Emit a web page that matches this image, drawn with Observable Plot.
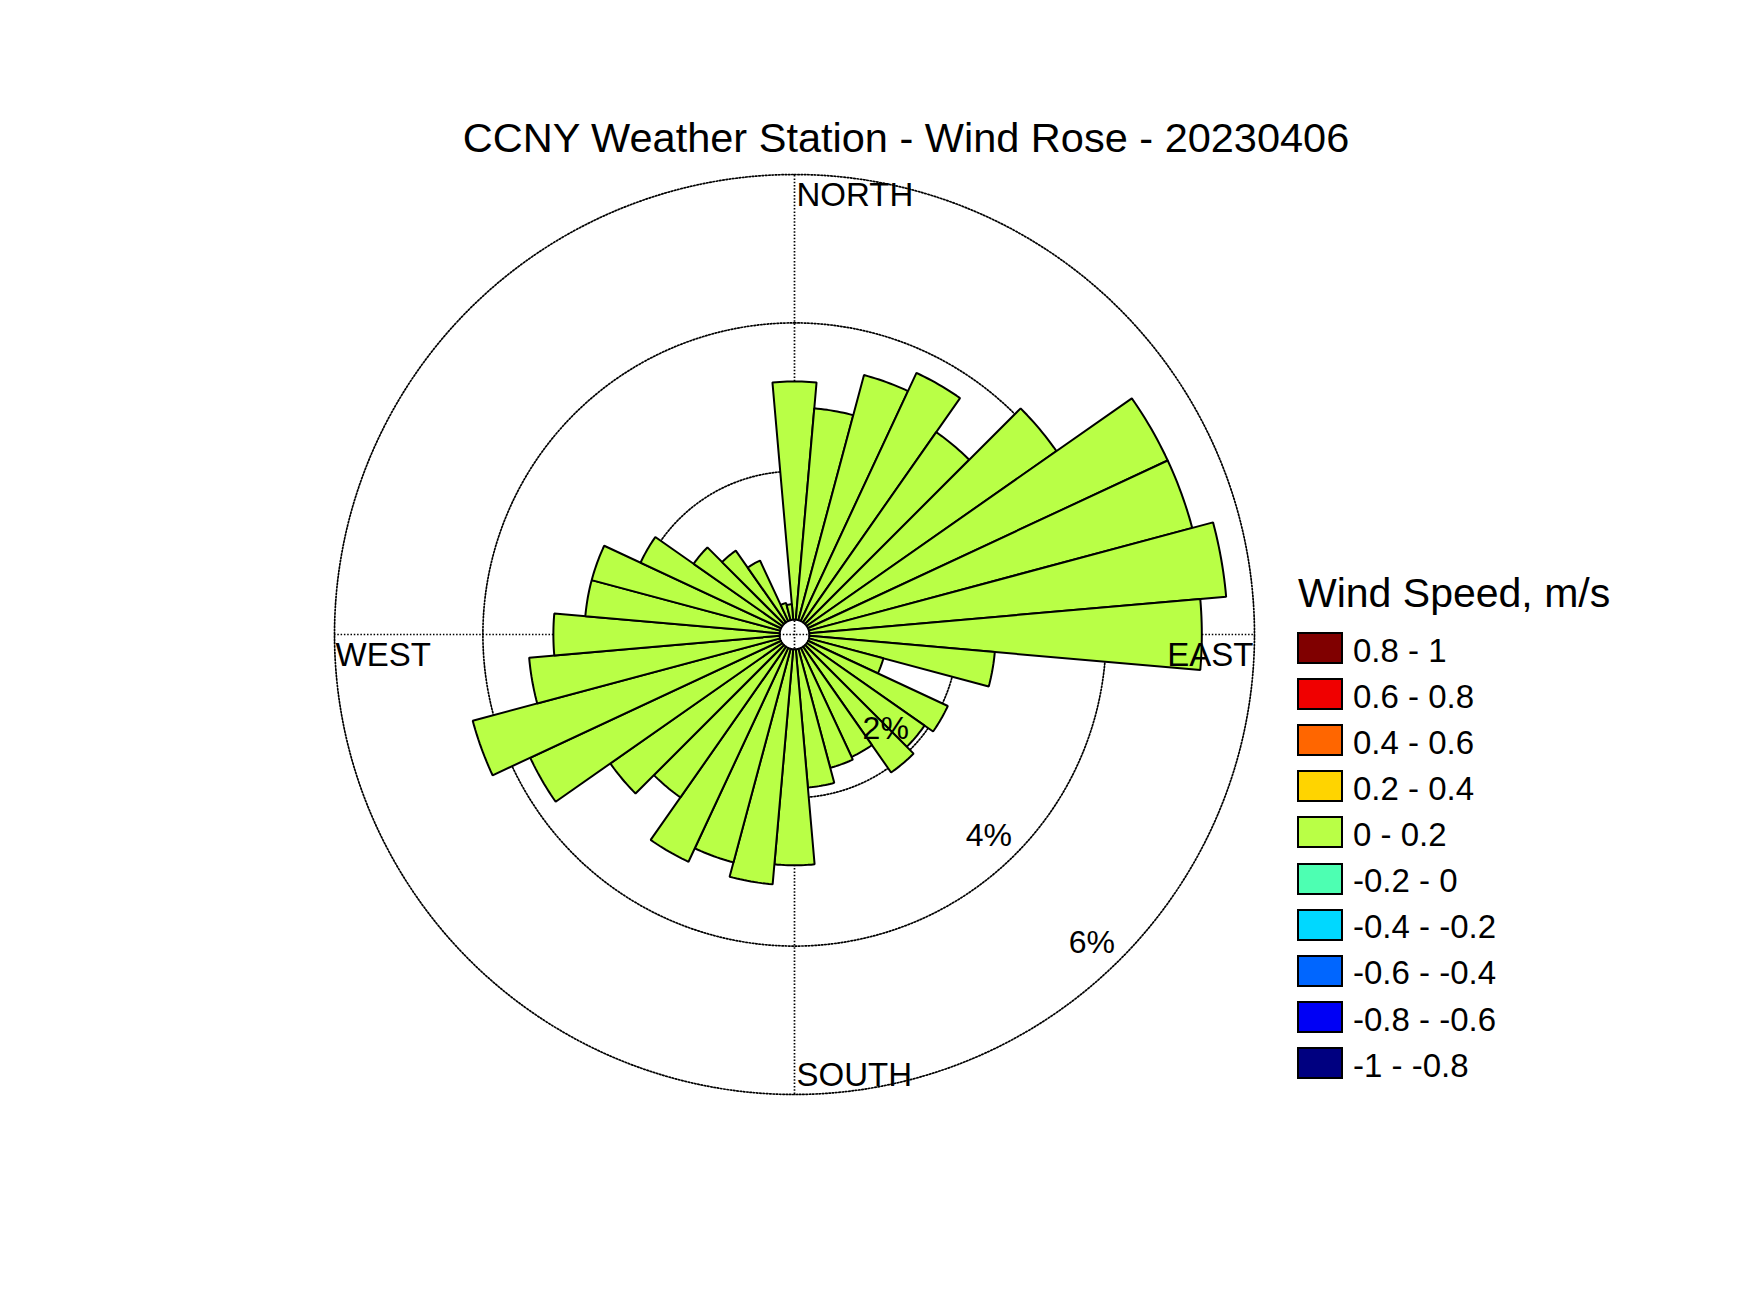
<!DOCTYPE html>
<html>
<head>
<meta charset="utf-8">
<script src="https://cdn.jsdelivr.net/npm/d3@7"></script>
<script src="https://cdn.jsdelivr.net/npm/@observablehq/plot@0.6"></script>
<style>
  body { margin: 0; background: #ffffff; }
  #wrap { position: relative; width: 1750px; height: 1313px; background: #ffffff;
          font-family: Arial, "Liberation Sans", Helvetica, sans-serif; color: #000; }
  #wrap svg { position: absolute; left: 0; top: 0; }
  .title { position: absolute; left: 0; width: 1812px; top: 117px; text-align: center;
           font-size: 41.5px; line-height: 41px; white-space: nowrap; }
  .legtitle { position: absolute; left: 1298px; top: 573px; font-size: 41px; line-height: 41px; white-space: nowrap; }
  .sw { position: absolute; left: 1297px; width: 46px; height: 32px; box-sizing: border-box; border: 2px solid #000; }
  .lab { position: absolute; left: 1353px; font-size: 33px; line-height: 33px; white-space: nowrap; }
</style>
</head>
<body>
<div id="wrap"></div>
<script>
// ---- data ----
const titleText = "CCNY Weather Station - Wind Rose - 20230406";
const legendTitle = "Wind Speed, m/s";

// direction bins (compass degrees, 10° sectors)
const directions = [0, 10, 20, 30, 40, 50, 60, 70, 80, 90, 100, 110, 120, 130, 140, 150, 160, 170,
                    180, 190, 200, 210, 220, 230, 240, 250, 260, 270, 280, 290, 300, 310, 320, 330, 340, 350];
// frequency (%) of the 0 - 0.2 m/s bin for each direction
const frequency = [3.21, 2.86, 3.42, 3.69, 3.13, 4.11, 5.35, 5.35, 5.64, 5.29, 2.51, 1.04, 2.08, 1.94,
                   2.07, 1.62, 1.66, 1.87, 2.91, 3.18, 2.98, 3.18, 2.48, 2.83, 3.73, 4.29, 3.39, 3.05,
                   2.63, 2.63, 2.09, 1.46, 1.18, 0.90, 0.24, 0.21];
const barBin = "0 - 0.2";

// legend
const speedBins = ["0.8 - 1", "0.6 - 0.8", "0.4 - 0.6", "0.2 - 0.4", "0 - 0.2",
                   "-0.2 - 0", "-0.4 - -0.2", "-0.6 - -0.4", "-0.8 - -0.6", "-1 - -0.8"];
const binColors = ["#800000", "#f00000", "#ff6600", "#ffd400", "#b9ff46",
                   "#4dffb2", "#00d8ff", "#0066ff", "#0000f5", "#000080"];

// radial axis
const ringTicks = [2, 4, 6];
const ringLabels = ["2%", "4%", "6%"];
const cardinals = ["NORTH", "EAST", "SOUTH", "WEST"];

// ---- geometry helpers ----
const hole = 0.2;                 // central hole, in % units
const rMax = ringTicks[ringTicks.length - 1] + hole;
const rad = d => d * Math.PI / 180;
const px = (r, deg) => r * Math.sin(rad(deg));
const py = (r, deg) => r * Math.cos(rad(deg));

const barColor = binColors[speedBins.indexOf(barBin)];
const half = 5, seg = 12;
const wedgePts = [];
directions.forEach((d, i) => {
  const v = frequency[i];
  for (let k = 0; k <= seg; k++) {
    const a = d - half + (2 * half) * k / seg;
    wedgePts.push({id: i, x: px(hole, a), y: py(hole, a)});
  }
  for (let k = seg; k >= 0; k--) {
    const a = d - half + (2 * half) * k / seg;
    wedgePts.push({id: i, x: px(hole + v, a), y: py(hole + v, a)});
  }
});

const ringPts = [];
ringTicks.forEach((t, i) => {
  for (let k = 0; k < 360; k++) ringPts.push({id: i, x: px(t + hole, k), y: py(t + hole, k)});
});

const labelAngle = 136;
const ringLabelData = ringTicks.map((t, i) => ({x: px(t - 0.23, labelAngle), y: py(t - 0.23, labelAngle), text: ringLabels[i]}));

const card = {
  NORTH: {x: 0, y: rMax}, EAST: {x: rMax, y: 0}, SOUTH: {x: 0, y: -rMax}, WEST: {x: -rMax, y: 0}
};
const cardData = cardinals.map(c => ({text: c, ...card[c]}));
const pick = n => cardData.filter(d => d.text === n);

const font = 'Arial, "Liberation Sans", Helvetica, sans-serif';
const dotted = {stroke: "#000", strokeWidth: 1.7, strokeDasharray: "1.5,1.8"};

const chart = Plot.plot({
  width: 1750,
  height: 1313,
  marginLeft: 334,
  marginRight: 496,
  marginTop: 174,
  marginBottom: 219,
  x: {domain: [-rMax, rMax], axis: null},
  y: {domain: [-rMax, rMax], axis: null},
  style: {fontFamily: font, background: "transparent", overflow: "visible"},
  marks: [
    Plot.ruleX([0], {y1: -rMax, y2: rMax, ...dotted}),
    Plot.ruleY([0], {x1: -rMax, x2: rMax, ...dotted}),
    Plot.line(ringPts, {x: "x", y: "y", z: "id", curve: "linear-closed", ...dotted}),
    Plot.line(wedgePts, {x: "x", y: "y", z: "id", curve: "linear-closed", fill: barColor,
                         stroke: "#000", strokeWidth: 2, strokeLinejoin: "miter"}),
    Plot.text(pick("NORTH"), {x: "x", y: "y", text: "text", textAnchor: "start", dx: 2, dy: 21, fontSize: 33, fill: "#000"}),
    Plot.text(pick("SOUTH"), {x: "x", y: "y", text: "text", textAnchor: "start", dx: 2, dy: -19, fontSize: 33, fill: "#000"}),
    Plot.text(pick("WEST"), {x: "x", y: "y", text: "text", textAnchor: "start", dx: 1, dy: 21, fontSize: 33, fill: "#000"}),
    Plot.text(pick("EAST"), {x: "x", y: "y", text: "text", textAnchor: "end", dx: -1, dy: 21, fontSize: 33, fill: "#000"}),
    Plot.text(ringLabelData, {x: "x", y: "y", text: "text", fontSize: 32, fill: "#000"})
  ]
});

const wrap = document.getElementById("wrap");
wrap.appendChild(chart);

const t = document.createElement("div");
t.className = "title";
t.textContent = titleText;
wrap.appendChild(t);

const lt = document.createElement("div");
lt.className = "legtitle";
lt.textContent = legendTitle;
wrap.appendChild(lt);

speedBins.forEach((b, i) => {
  const s = document.createElement("div");
  s.className = "sw";
  s.style.top = (632 + 46.1 * i) + "px";
  s.style.background = binColors[i];
  wrap.appendChild(s);
  const l = document.createElement("div");
  l.className = "lab";
  l.style.top = (633.7 + 46.1 * i) + "px";
  l.textContent = b;
  wrap.appendChild(l);
});
</script>
</body>
</html>
